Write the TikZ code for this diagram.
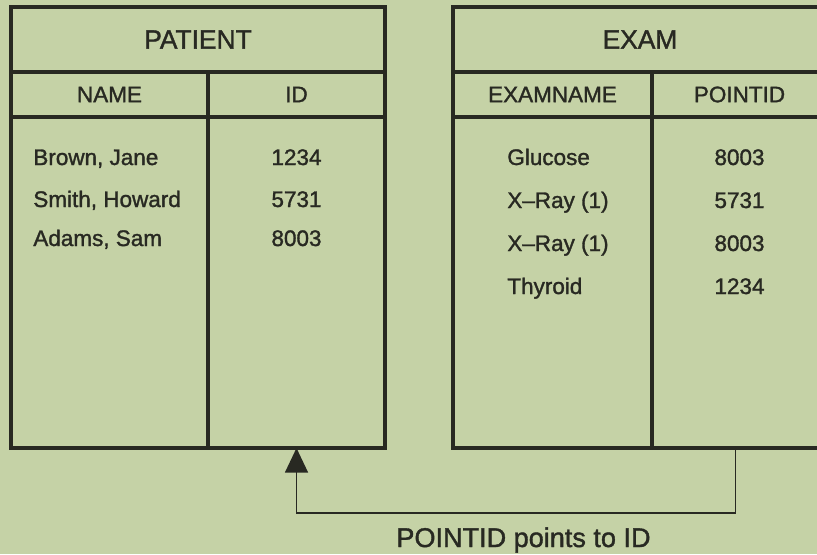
\documentclass[tikz,border=0pt]{standalone}
\usepackage{fontspec}
\setmainfont{Liberation Sans}[FakeBold=1.4]
\usetikzlibrary{positioning,arrows.meta}

\definecolor{paper}{RGB}{197,210,166}
\definecolor{ink}{RGB}{40,41,34}

\tikzstyle{titlecell} = [rectangle, draw = ink, line width = 2pt, outer sep = 0pt, minimum height = 1.3cm, inner sep = 0pt, text = ink, font = \fontsize{15}{18}\selectfont]
\tikzstyle{headcell} = [rectangle, draw = ink, line width = 2pt, outer sep = 0pt, minimum height = 0.9cm, inner sep = 0pt, text = ink, font = \fontsize{12.8}{15}\selectfont]
\tikzstyle{column} = [rectangle, draw = ink, line width = 2pt, outer sep = 0pt, minimum height = 6.62cm, inner sep = 0pt]
\tikzstyle{entry} = [inner sep = 0pt, text = ink, font = \fontsize{12.8}{15}\selectfont]
\tikzstyle{arrow} = [line width = 1.1pt, draw = ink, -{Triangle[length = 14pt, width = 13pt]}]

\begin{document}
\begin{tikzpicture}
    \useasboundingbox (0, 0) rectangle (16.34, -11.08);
    \clip (0, 0) rectangle (16.34, -11.08);
    \fill[paper] (0, 0) rectangle (16.34, -11.08);

    % patient table
    \node(ptitle)[titlecell, minimum width = 7.48cm] at (3.96, -0.79) {PATIENT};
    \node(pname)[headcell, minimum width = 3.94cm, anchor = north west] at (ptitle.south west) {NAME};
    \node(pid)[headcell, minimum width = 3.54cm, anchor = north west] at (pname.north east) {ID};
    \node(pnamecol)[column, minimum width = 3.94cm, below = 0pt of pname] {};
    \node(pidcol)[column, minimum width = 3.54cm, below = 0pt of pid] {};

    \node(brown)[entry, anchor = base west] at (0.66, -3.30) {Brown, Jane};
    \node(smith)[entry, anchor = base west] at (0.66, -4.14) {Smith, Howard};
    \node(adams)[entry, anchor = base west] at (0.66, -4.92) {Adams, Sam};
    \node(id1)[entry, anchor = base] at (pidcol |- brown.base) {1234};
    \node(id2)[entry, anchor = base] at (pidcol |- smith.base) {5731};
    \node(id3)[entry, anchor = base] at (pidcol |- adams.base) {8003};

    % exam table
    \node(etitle)[titlecell, minimum width = 7.48cm] at (12.80, -0.79) {EXAM};
    \node(ename)[headcell, minimum width = 3.98cm, anchor = north west] at (etitle.south west) {EXAMNAME};
    \node(epoint)[headcell, minimum width = 3.50cm, anchor = north west] at (ename.north east) {POINTID};
    \node(enamecol)[column, minimum width = 3.98cm, below = 0pt of ename] {};
    \node(epointcol)[column, minimum width = 3.50cm, below = 0pt of epoint] {};

    \node(glucose)[entry, anchor = base west] at (10.14, -3.30) {Glucose};
    \node(xray1)[entry, anchor = base west] at (10.14, -4.16) {X--Ray (1)};
    \node(xray2)[entry, anchor = base west] at (10.14, -5.02) {X--Ray (1)};
    \node(thyroid)[entry, anchor = base west] at (10.14, -5.88) {Thyroid};
    \node(pt1)[entry, anchor = base] at (epointcol |- glucose.base) {8003};
    \node(pt2)[entry, anchor = base] at (epointcol |- xray1.base) {5731};
    \node(pt3)[entry, anchor = base] at (epointcol |- xray2.base) {8003};
    \node(pt4)[entry, anchor = base] at (epointcol |- thyroid.base) {1234};

    % link between the two tables
    \draw[arrow] ([xshift = -0.08cm]epointcol.south) -- ++(0, -1.30) -| (pidcol.south);
    \node(note)[anchor = base, text = ink, font = \fontsize{15.4}{18}\selectfont] at (10.47, -10.94) {POINTID points to ID};
\end{tikzpicture}
\end{document}
